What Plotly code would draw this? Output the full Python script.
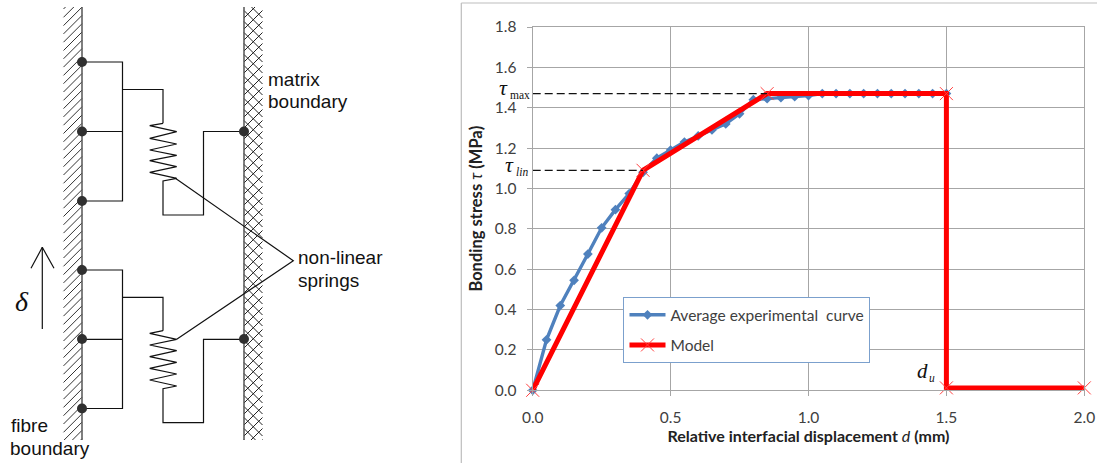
import plotly.graph_objects as go

# ---------- chart data ----------
exp_x = [0.00, 0.05, 0.10, 0.15, 0.20, 0.25, 0.30, 0.35, 0.40, 0.45, 0.50, 0.55, 0.60, 0.65,
         0.70, 0.75, 0.80, 0.85, 0.90, 0.95, 1.00, 1.05, 1.10, 1.15, 1.20, 1.25, 1.30, 1.35,
         1.40, 1.45, 1.50]
exp_y = [0.00, 0.25, 0.42, 0.545, 0.675, 0.805, 0.895, 0.975, 1.08, 1.15, 1.19, 1.23, 1.26, 1.29,
         1.32, 1.37, 1.44, 1.445, 1.45, 1.455, 1.46, 1.47, 1.47, 1.47, 1.47, 1.47, 1.47, 1.47,
         1.47, 1.47, 1.47]
model_x = [0.0, 0.4, 0.85, 1.5, 1.5, 2.0]
model_y = [0.0, 1.09, 1.47, 1.47, 0.012, 0.012]
tau_max_x = [0.0, 0.85]
tau_max_y = [1.47, 1.47]
tau_lin_x = [0.0, 0.4]
tau_lin_y = [1.09, 1.09]
series_names = ["Average experimental  curve", "Model"]
x_ticks = [0.0, 0.5, 1.0, 1.5, 2.0]
y_ticks = [0.0, 0.2, 0.4, 0.6, 0.8, 1.0, 1.2, 1.4, 1.6, 1.8]

# ---------- schematic geometry (picture pixels, on a hidden full-page axis) ----------
W, H = 1097, 463
fibre_nodes_y = [62, 131.5, 201, 270, 339, 408.5]
matrix_nodes_y = [131.5, 339]
wall_top, wall_bottom = 7, 440
fibre_x, fibre_hatch_x = 82, 63.5
matrix_x, matrix_hatch_x = 244, 262.5

upper_frame = ([82, 122.5, 122.5, 82, None, 82, 122.5, None, 122.5, 163, 163],
               [62, 62, 201, 201, None, 131.5, 131.5, None, 89.5, 89.5, 123.3])
upper_spring = ([163, 149.7, 176.7, 149.7, 176.7, 149.7, 176.7, 149.7, 176.7, 149.7, 176.7, 163, 163, 203.5, 203.5, 244],
                [123.3, 125.7, 131.7, 138.3, 144, 150, 155.3, 160.7, 166.7, 172.3, 178.3, 181, 215, 215, 131.5, 131.5])
lower_frame = ([82, 122.5, 122.5, 82, None, 82, 122.5, None, 122.5, 163, 163],
               [270, 270, 408.5, 408.5, None, 339.3, 339.3, None, 297.3, 297.3, 330.7])
lower_spring = ([163, 149.7, 176.7, 149.7, 176.7, 149.7, 176.7, 149.7, 176.7, 149.7, 176.7, 163, 163, 203.5, 203.5, 244],
                [330.7, 333.3, 339.3, 345, 350.7, 356.7, 362.3, 368.3, 374, 380, 386, 388.7, 422.7, 422.7, 339.3, 339.3])
leader = ([175, 293.3, 176.7], [178, 260.7, 339.3])
arrow = ([42.3, 42.3, None, 31, 42.3, 54], [329, 247.3, None, 268.3, 247.3, 268.3])


def hatch(x_wall, x_far, rising, spacing, offset):
    """Diagonal fill lines for a wall strip, clipped to its top and bottom."""
    xs, ys = [], []
    run = abs(x_far - x_wall)
    y = wall_top - run + offset
    while y < wall_bottom:
        # wall end at (x_wall, y_w), far end at (x_far, y_f)
        y_w, y_f = (y + run, y) if not rising else (y, y + run)
        x_w, x_f = x_wall, x_far
        for limit, above in ((wall_top, True), (wall_bottom, False)):
            w_out = y_w < limit if above else y_w > limit
            f_out = y_f < limit if above else y_f > limit
            if w_out:
                t = (limit - y_w) / (y_f - y_w)
                x_w, y_w = x_w + (x_f - x_w) * t, limit
            elif f_out:
                t = (limit - y_f) / (y_w - y_f)
                x_f, y_f = x_f + (x_w - x_f) * t, limit
        xs += [x_w, x_f, None]
        ys += [y_w, y_f, None]
        y += spacing
    return xs, ys


fig = go.Figure()


def diagram_line(xs, ys, color="#111111", width=1.2):
    fig.add_trace(go.Scatter(x=xs, y=ys, xaxis="x2", yaxis="y2", mode="lines",
                             line=dict(color=color, width=width),
                             showlegend=False, hoverinfo="skip", connectgaps=False))


# ---------- chart ----------
fig.add_trace(go.Scatter(x=exp_x, y=exp_y, mode="lines+markers", name=series_names[0],
                         legendgroup="a", cliponaxis=False,
                         line=dict(color="#4f81bd", width=3.4),
                         marker=dict(symbol="diamond", size=7.5, color="#4f81bd")))
fig.add_trace(go.Scatter(x=model_x, y=model_y, mode="lines+markers", name=series_names[1],
                         legendgroup="b", cliponaxis=False,
                         line=dict(color="#ff0000", width=5),
                         marker=dict(symbol="x-thin", size=13, color="#ff3030",
                                     line=dict(color="#ff4040", width=1))))
fig.add_trace(go.Scatter(x=tau_max_x, y=tau_max_y, mode="lines", showlegend=False, hoverinfo="skip",
                         line=dict(color="#111111", width=1.3, dash="8px,4px")))
fig.add_trace(go.Scatter(x=tau_lin_x, y=tau_lin_y, mode="lines", showlegend=False, hoverinfo="skip",
                         line=dict(color="#111111", width=1.3, dash="8px,4px")))

# ---------- schematic ----------
h = hatch(fibre_x, fibre_hatch_x, True, 8.3, 2)
diagram_line(h[0], h[1], "#333333", 1.0)
m1 = hatch(matrix_x, matrix_hatch_x, True, 11, 0)
m2 = hatch(matrix_x, matrix_hatch_x, False, 11, 0)
diagram_line(m1[0], m1[1], "#222222", 1.0)
diagram_line(m2[0], m2[1], "#222222", 1.0)
diagram_line([fibre_x, fibre_x], [wall_top, wall_bottom], "#555555", 1.5)
diagram_line([matrix_x, matrix_x], [wall_top, wall_bottom], "#555555", 1.5)
for part in (upper_frame, upper_spring, lower_frame, lower_spring, leader, arrow):
    diagram_line(part[0], part[1])
fig.add_trace(go.Scatter(x=[fibre_x] * len(fibre_nodes_y) + [matrix_x] * len(matrix_nodes_y),
                         y=fibre_nodes_y + matrix_nodes_y, xaxis="x2", yaxis="y2", mode="markers",
                         marker=dict(size=10, color="#303030"), showlegend=False, hoverinfo="skip"))

SANS = "Liberation Sans"
SERIF = "Liberation Serif"
LATO = "Lato"


def label(x, y, text, size, family, color="#111111", xanchor="left"):
    return dict(x=x, y=y, xref="x2", yref="y2", text=text, showarrow=False, xanchor=xanchor,
                yanchor="middle", borderpad=0, borderwidth=0,
                font=dict(family=family, size=size, color=color))


annotations = [
    label(268, 79, "matrix", 19, SANS),
    label(268, 101, "boundary", 19, SANS),
    label(298, 257, "non-linear", 19, SANS),
    label(298, 280, "springs", 19, SANS),
    label(11, 425, "fibre", 19, SANS),
    label(10, 448, "boundary", 19, SANS),
    label(15, 301, "<i>δ</i>", 28, SERIF),
    label(499, 87, "<i>τ</i>", 22, SERIF),
    label(510, 95, "max", 11.5, SERIF),
    label(505, 164, "<i>τ</i>", 22, SERIF),
    label(516, 172, "<i>lin</i>", 11.5, SERIF),
    label(917, 371, "<i>d</i>", 21, SERIF),
    label(929, 378, "<i>u</i>", 11.5, SERIF),
]

shapes = [
    dict(type="line", xref="x2", yref="y2", x0=461.3, x1=461.3, y0=3, y1=H,
         line=dict(color="#bdbdbd", width=1.2)),
    dict(type="line", xref="x2", yref="y2", x0=461.3, x1=W, y0=3, y1=3,
         line=dict(color="#bdbdbd", width=1.2)),
]

PX0, PX1, PY0, PY1 = 532.7, 1084.3, 27, 390.3
GRID = "#a6a6a6"
fig.update_layout(
    width=W, height=H, margin=dict(l=0, r=0, t=0, b=0, pad=0, autoexpand=False),
    paper_bgcolor="white", plot_bgcolor="rgba(0,0,0,0)",
    font=dict(family=LATO, color="#404040"),
    xaxis=dict(domain=[PX0 / W, PX1 / W], range=[0, 2], tickvals=x_ticks, tickformat=".1f",
               showgrid=True, gridcolor=GRID, gridwidth=1.2, zeroline=False,
               showline=True, linecolor=GRID, linewidth=1.2, mirror=True,
               ticks="outside", ticklen=5, tickcolor=GRID, tickwidth=1.2, ticklabelstandoff=8,
               tickfont=dict(family=LATO, size=15.5, color="#404040"), anchor="y",
               title=dict(text="<b>Relative interfacial displacement </b><i>d</i><b> (mm)</b>",
                          font=dict(family=LATO, size=16, color="#222222"), standoff=4)),
    yaxis=dict(domain=[1 - PY1 / H, 1 - PY0 / H], range=[0, 1.8], tickvals=y_ticks, tickformat=".1f",
               showgrid=True, gridcolor=GRID, gridwidth=1.2, zeroline=False,
               showline=True, linecolor=GRID, linewidth=1.2, mirror=True,
               ticks="outside", ticklen=5, tickcolor=GRID, tickwidth=1.2, ticklabelstandoff=7,
               tickfont=dict(family=LATO, size=15.5, color="#404040"), anchor="x",
               title=dict(text="<b>Bonding stress </b><i>τ</i><b> (MPa)</b>",
                          font=dict(family=LATO, size=16.5, color="#222222"), standoff=8)),
    xaxis2=dict(domain=[0, 1], range=[0, W], visible=False, anchor="y2", fixedrange=True),
    yaxis2=dict(domain=[0, 1], range=[H, 0], visible=False, anchor="x2", fixedrange=True),
    legend=dict(x=623.3 / W, y=1 - 297 / H, xanchor="left", yanchor="top",
                bgcolor="white", bordercolor="#7ba0cd", borderwidth=1.2,
                font=dict(family=LATO, size=15.5, color="#404040"),
                traceorder="grouped", tracegroupgap=7, itemwidth=36,
                entrywidth=212, entrywidthmode="pixels"),
    annotations=annotations, shapes=shapes, showlegend=True,
)

fig.write_html("out.html", config=dict(displayModeBar=False),
               post_script="document.body.style.margin='0';")
